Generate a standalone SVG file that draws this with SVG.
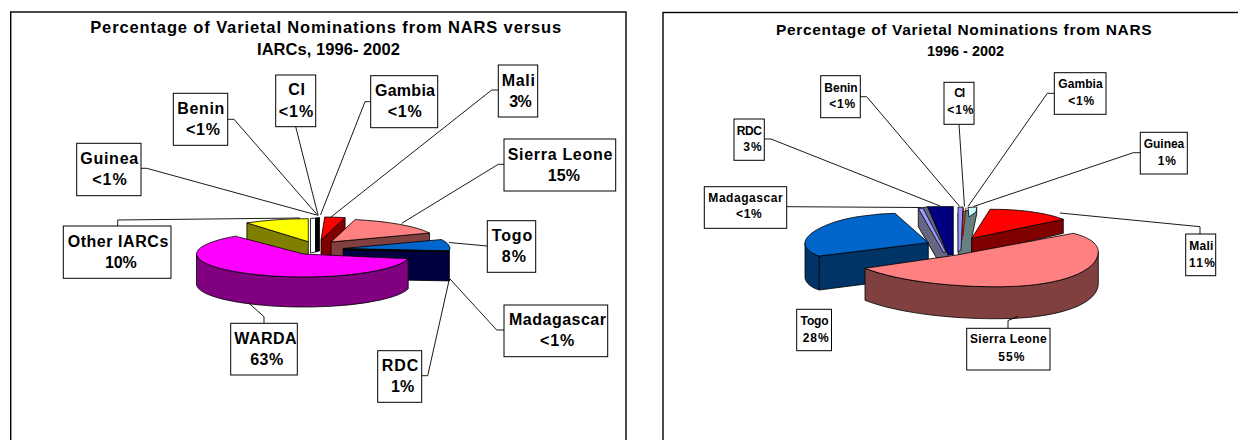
<svg xmlns="http://www.w3.org/2000/svg" width="1238" height="440" viewBox="0 0 1238 440">
<style>
.frame{fill:#fff;stroke:#000;stroke-width:1.4}
.box{fill:#fff;stroke:#000;stroke-width:1}
.ll{font-family:"Liberation Sans",Arial,sans-serif;font-weight:bold;font-size:16px;fill:#000;text-anchor:middle}
.lr{font-family:"Liberation Sans",Arial,sans-serif;font-weight:bold;font-size:12px;fill:#000;text-anchor:middle}
.title{font-family:"Liberation Sans",Arial,sans-serif;font-weight:bold;font-size:16.5px;fill:#000;text-anchor:middle}
.s{stroke:#000;stroke-width:0.8;stroke-linejoin:round}
.conn path{fill:none;stroke:#000;stroke-width:0.9}
</style>
<rect width="1238" height="440" fill="#fff"/>
<rect class="frame" x="10.7" y="12" width="615.3" height="440"/>
<rect class="frame" x="663" y="12.5" width="600" height="440"/>

<g id="title-left">
<text class="title" x="325.7" y="33" textLength="471" lengthAdjust="spacing">Percentage of Varietal Nominations from NARS versus</text>
<text class="title" x="328.5" y="54.5" textLength="143" lengthAdjust="spacing">IARCs, 1996- 2002</text>
</g>
<g id="title-right">
<text class="title" x="963.8" y="35" style="font-size:15.5px" textLength="375.6" lengthAdjust="spacing">Percentage of Varietal Nominations from NARS</text>
<text class="title" x="965.5" y="56" style="font-size:15.5px" textLength="77" lengthAdjust="spacingAndGlyphs">1996 - 2002</text>
</g>

<g id="pie-left">
<path class="s" fill="#808000" d="M308.3,241.7 L246.9,222.9 L246.9,252.9 L308.3,271.7 Z"/>
<path class="s" fill="#FFFF00" d="M308.3,241.7 L246.9,222.9 A107,23 0 0 1 308.3,218.7 Z"/>
<path class="s" fill="#FFFFFF" d="M310.5,218.5 L315.5,218 L315.5,252 L310.5,253 Z"/>
<path class="s" fill="#000000" d="M315.5,218 L319.5,217.5 L319.5,251 L315.5,252 Z"/>
<path class="s" fill="#800000" d="M321,240 L345.1,217.6 L345.1,247.6 L321,270 Z"/>
<path class="s" fill="#FF0000" d="M321,240 L324.7,217 A107,23 0 0 1 345.1,217.6 Z"/>
<path class="s" fill="#804040" d="M331,242 L429.5,233 L429.5,263 L331,272 Z"/>
<path class="s" fill="#FF8080" d="M331,242 L355.1,219.6 A107,23 0 0 1 429.5,233 Z"/>
<path class="s" fill="#000040" d="M343,249 L449.4,250.9 L449.4,280.9 L343,279 Z"/>
<path class="s" fill="#0066CC" d="M343,248.5 L441.5,239.5 A107,23 0 0 1 449.4,250.9 Z"/>
<path fill="none" stroke="#000" stroke-width="2" d="M343,249.5 L449.4,251.5"/>
<path class="s" fill="#800080" d="M408.2,258.8 A107,23 0 0 1 196.5,254 L196.5,284 A107,23 0 0 0 408.2,288.8 Z"/>
<path class="s" fill="#FF00FF" d="M303.5,254 L408.2,258.8 A107,23 0 1 1 235.5,236.2 Z"/>
</g>

<g id="pie-right">
<path class="s" fill="#666680" d="M918.3,208.5 L927.7,206.7 L948.3,255 L948.3,257.5 L936.7,258.3 L918.3,226.7 Z"/>
<path class="s" fill="#9999FF" d="M918.3,208.5 L923,208 L946,252 L943.5,252.5 Z"/>
<path class="s" fill="#000080" d="M927.7,206.7 L953.3,206.5 L953.3,255 L948.3,255 Z"/>
<path class="s" fill="#668080" d="M958,213 L976.7,208 L976.7,214 L971.7,238.3 L971.7,255 L958.3,255.5 Z"/>
<path class="s" fill="#9999FF" d="M958,207 L963,207 L961,250 L958,252 Z"/>
<path class="s" fill="#CCFFFF" d="M968,207.5 L977,207 L976,212 L969,217 Z"/>
<path fill="none" stroke="#800000" stroke-width="0.9" d="M963.5,207.5 L962,240 M966,207.5 L963,236"/>
<path class="s" fill="#003366" d="M805,243 C805,249 812,254 819.3,256 L819.3,290 C812,288 805,283 805,277 Z"/>
<path class="s" fill="#003366" d="M819.3,256 L928.3,242.7 L928.3,276 L819.3,290 Z"/>
<path class="s" fill="#0066CC" d="M819.3,256 C812,254 805,249 805,243 C805,233 830,220 863,216 Q880,213.5 895,213.3 L928.3,242.7 Z"/>
<path class="s" fill="#800000" d="M971.7,238.3 L1063.3,219.3 L1063.3,233.3 L971.7,255 Z"/>
<path class="s" fill="#FF0000" d="M990,209.3 C1015,209 1045,212 1063.3,219.3 L971.7,238.3 Z"/>
<path class="s" fill="#804040" d="M865,268.3 C900,282 960,288 1010,286.5 C1060,285 1098,272 1098.3,251.7 L1098.3,283.7 C1098,304 1060,317 1010,318.5 C960,320 900,314 865,300.3 Z"/>
<path class="s" fill="#FF8080" d="M956.7,255 L865,268.3 C900,282 960,288 1010,286.5 C1060,285 1098,272 1098.3,251.7 C1098,243 1088,237 1073.3,233.3 Z"/>
</g>

<g id="connectors" class="conn">
<path d="M141,168.3 H146.7 L316.7,215"/>
<path d="M227.7,119.3 H234 L318.3,216"/>
<path d="M295.7,126.7 L318,215"/>
<path d="M370.7,101.7 H365 L320.5,215"/>
<path d="M498.3,90 H491.7 L331,217"/>
<path d="M504,164.3 H498.3 L401.7,223.3"/>
<path d="M117.7,226 V220 L300,218"/>
<path d="M487.3,246 L449,242.5"/>
<path d="M504,330 H496.7 L450,279"/>
<path d="M421.7,375.7 H427.7 L449.3,279.3"/>
<path d="M264,323.3 V316.7 L248.3,302.7"/>
<path d="M860.3,96.7 H866.7 L959.3,206"/>
<path d="M764.3,139 H771 L940,206"/>
<path d="M959,124.3 L964.5,206.5"/>
<path d="M786.7,206.7 L921,207.5"/>
<path d="M1054.3,93.3 H1047.3 L968,206.5"/>
<path d="M1140.3,152.7 H1133.3 L973.5,206.5"/>
<path d="M1200,234 V226.7 L1060,213"/>
<path d="M1008,328.3 V320.5 L1018,316.5"/>
</g>

<g id="L-guinea"><rect class="box" x="76.7" y="143.3" width="64.3" height="52.4"/><text class="ll" x="109.2" y="164.3" textLength="58" lengthAdjust="spacing">Guinea</text><text class="ll" x="109.5" y="185" textLength="34.4" lengthAdjust="spacing">&lt;1%</text></g>
<g id="L-benin"><rect class="box" x="173.3" y="93.3" width="54.4" height="52"/><text class="ll" x="200.8" y="114.3" textLength="47" lengthAdjust="spacing">Benin</text><text class="ll" x="203" y="135" textLength="34" lengthAdjust="spacing">&lt;1%</text></g>
<g id="L-ci"><rect class="box" x="275.7" y="75" width="40" height="51.7"/><text class="ll" x="296.7" y="95" textLength="16.7" lengthAdjust="spacing">CI</text><text class="ll" x="296" y="116.7" textLength="34.3" lengthAdjust="spacing">&lt;1%</text></g>
<g id="L-gambia"><rect class="box" x="370.7" y="75.7" width="67" height="52"/><text class="ll" x="405" y="95.7" textLength="60" lengthAdjust="spacing">Gambia</text><text class="ll" x="404.7" y="116.7" textLength="34" lengthAdjust="spacing">&lt;1%</text></g>
<g id="L-mali"><rect class="box" x="498.3" y="65" width="39.4" height="52"/><text class="ll" x="518.3" y="85.7" textLength="33.3" lengthAdjust="spacing">Mali</text><text class="ll" x="520.5" y="106.7" textLength="22.4" lengthAdjust="spacing">3%</text></g>
<g id="L-sierraleone"><rect class="box" x="504" y="139" width="111.7" height="52"/><text class="ll" x="560" y="160" textLength="104.6" lengthAdjust="spacing">Sierra Leone</text><text class="ll" x="563.8" y="181" textLength="32.3" lengthAdjust="spacing">15%</text></g>
<g id="L-otheriarcs"><rect class="box" x="63.3" y="226" width="107.7" height="52.3"/><text class="ll" x="118" y="246.7" textLength="100.7" lengthAdjust="spacing">Other IARCs</text><text class="ll" x="120.8" y="267.7" textLength="31.7" lengthAdjust="spacing">10%</text></g>
<g id="L-togo"><rect class="box" x="487.3" y="220.7" width="48.4" height="51.6"/><text class="ll" x="512" y="240.7" textLength="40.7" lengthAdjust="spacing">Togo</text><text class="ll" x="513.8" y="262.3" textLength="24.3" lengthAdjust="spacing">8%</text></g>
<g id="L-madagascar"><rect class="box" x="504" y="305" width="103.7" height="51.7"/><text class="ll" x="557.5" y="325" textLength="97" lengthAdjust="spacing">Madagascar</text><text class="ll" x="557.2" y="345.7" textLength="34.3" lengthAdjust="spacing">&lt;1%</text></g>
<g id="L-warda"><rect class="box" x="230.7" y="323.3" width="66.6" height="51.7"/><text class="ll" x="265.5" y="344" textLength="62.3" lengthAdjust="spacing">WARDA</text><text class="ll" x="266.7" y="365" textLength="33" lengthAdjust="spacing">63%</text></g>
<g id="L-rdc"><rect class="box" x="377.7" y="350.7" width="44" height="51.6"/><text class="ll" x="400" y="370.7" textLength="36.7" lengthAdjust="spacing">RDC</text><text class="ll" x="402.7" y="392.3" textLength="23.3" lengthAdjust="spacing">1%</text></g>

<g id="R-benin"><rect class="box" x="820.7" y="75.7" width="39.6" height="42"/><text class="lr" x="841" y="91.7" textLength="33.3" lengthAdjust="spacing">Benin</text><text class="lr" x="842.2" y="107.7" textLength="25.7" lengthAdjust="spacing">&lt;1%</text></g>
<g id="R-ci"><rect class="box" x="944" y="82.3" width="30" height="42"/><text class="lr" x="959.7" y="97.3" textLength="10.7" lengthAdjust="spacing">CI</text><text class="lr" x="960.3" y="114.3" textLength="26" lengthAdjust="spacing">&lt;1%</text></g>
<g id="R-rdc"><rect class="box" x="734" y="119" width="30.3" height="41.3"/><text class="lr" x="749.3" y="135" textLength="25.3" lengthAdjust="spacing">RDC</text><text class="lr" x="752.5" y="151" textLength="18.4" lengthAdjust="spacing">3%</text></g>
<g id="R-madagascar"><rect class="box" x="704.3" y="186.7" width="82.4" height="41.6"/><text class="lr" x="745.5" y="201.7" textLength="74.3" lengthAdjust="spacing">Madagascar</text><text class="lr" x="748.8" y="218.3" textLength="25.7" lengthAdjust="spacing">&lt;1%</text></g>
<g id="R-gambia"><rect class="box" x="1054.3" y="72.7" width="51.7" height="41.6"/><text class="lr" x="1080.5" y="88.3" textLength="44.4" lengthAdjust="spacing">Gambia</text><text class="lr" x="1081.2" y="105" textLength="25.7" lengthAdjust="spacing">&lt;1%</text></g>
<g id="R-guinea"><rect class="box" x="1140.3" y="132.3" width="47" height="41.7"/><text class="lr" x="1164" y="147.7" textLength="40.6" lengthAdjust="spacing">Guinea</text><text class="lr" x="1166.8" y="165" textLength="18.3" lengthAdjust="spacing">1%</text></g>
<g id="R-mali"><rect class="box" x="1185.7" y="234" width="30" height="41.7"/><text class="lr" x="1201.3" y="250" textLength="24" lengthAdjust="spacing">Mali</text><text class="lr" x="1202" y="267.3" textLength="26" lengthAdjust="spacing">11%</text></g>
<g id="R-togo"><rect class="box" x="796.7" y="309.3" width="34.8" height="41.4"/><text class="lr" x="814.6" y="325" textLength="28" lengthAdjust="spacing">Togo</text><text class="lr" x="815.7" y="341.7" textLength="26" lengthAdjust="spacing">28%</text></g>
<g id="R-sierraleone"><rect class="box" x="966.7" y="328.3" width="83.3" height="41.7"/><text class="lr" x="1008.3" y="343.3" textLength="76.7" lengthAdjust="spacing">Sierra Leone</text><text class="lr" x="1011.3" y="361" textLength="26" lengthAdjust="spacing">55%</text></g>
</svg>
